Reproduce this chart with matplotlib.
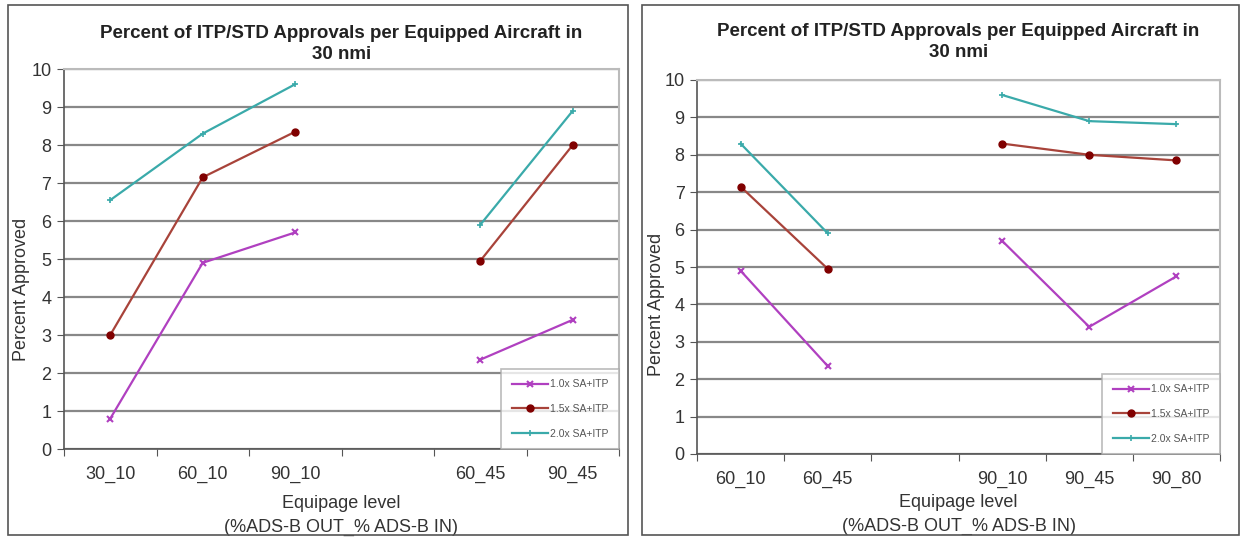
import matplotlib
matplotlib.use('Agg')
import matplotlib.pyplot as plt
import numpy as np
from matplotlib.patches import Rectangle

# left panel
cats_left = ['30_10', '60_10', '90_10', '', '60_45', '90_45']
left_10 = [0.8, 4.9, 5.7, None, 2.35, 3.4]
left_15 = [3.0, 7.15, 8.35, None, 4.95, 8.0]
left_20 = [6.55, 8.3, 9.6, None, 5.9, 8.9]

# right panel
cats_right = ['60_10', '60_45', '', '90_10', '90_45', '90_80']
right_10 = [4.9, 2.35, None, 5.7, 3.4, 4.75]
right_15 = [7.15, 4.95, None, 8.3, 8.0, 7.85]
right_20 = [8.3, 5.9, None, 9.6, 8.9, 8.82]

labels = ['1.0x SA+ITP', '1.5x SA+ITP', '2.0x SA+ITP']
title = 'Percent of ITP/STD Approvals per Equipped Aircraft in\n30 nmi'

plt.rcParams['font.family'] = ['Liberation Sans', 'DejaVu Sans']

fig = plt.figure(figsize=(12.41, 5.4), dpi=100)

# panel frames
fig.patches.append(Rectangle((8/1241, 1-535/540), (628-8)/1241, (535-5)/540,
                             transform=fig.transFigure, fill=False, ec='#555555', lw=1.2))
fig.patches.append(Rectangle((642/1241, 1-535/540), (1239-642)/1241, (535-5)/540,
                             transform=fig.transFigure, fill=False, ec='#555555', lw=1.2))


def tonan(v):
    return np.array([np.nan if a is None else a for a in v])


def draw(ax, cats, s10, s15, s20, ylab_y, tpad, xpad):
    x = np.arange(len(cats))
    ax.plot(x, tonan(s10), color='#B040C0', lw=1.6, marker='x', ms=4, mew=1.5, label=labels[0])
    ax.plot(x, tonan(s15), color='#A8433A', lw=1.6, marker='o', ms=5, mfc='#800000', mec='#800000', label=labels[1])
    ax.plot(x, tonan(s20), color='#3AAAAA', lw=1.6, marker='+', ms=4, mew=1.2, label=labels[2])
    ax.set_xlim(-0.5, len(cats) - 0.5)
    ax.set_ylim(0, 10)
    ax.set_yticks(range(0, 11))
    ax.set_xticks(np.arange(-0.5, len(cats), 1.0))
    ax.set_xticklabels([])
    ax.set_xticks(x, minor=True)
    ax.set_xticklabels(cats, minor=True)
    ax.tick_params(axis='x', which='minor', length=0, pad=12, labelsize=13, labelcolor='#333333')
    ax.tick_params(axis='x', which='major', length=5, color='#555555')
    ax.tick_params(axis='y', length=5, color='#555555', labelsize=13, labelcolor='#333333', pad=4)
    ax.grid(True, axis='y', color='#888888', lw=1.6)
    ax.set_axisbelow(True)
    for s in ['top', 'right']:
        ax.spines[s].set_color('#bbbbbb')
        ax.spines[s].set_linewidth(1.5)
    for s in ['left', 'bottom']:
        ax.spines[s].set_color('#555555')
        ax.spines[s].set_linewidth(1.2)
    ax.set_ylabel('Percent Approved', fontsize=13, color='#333333')
    ax.yaxis.set_label_coords(-0.061, ylab_y)
    ax.set_xlabel('Equipage level\n(%ADS-B OUT_% ADS-B IN)', fontsize=13, color='#333333',
                  linespacing=1.5, labelpad=xpad)
    ax.set_title(title, fontsize=13.5, fontweight='bold', color='#222222', pad=tpad, linespacing=1.35)
    leg = ax.legend(loc='lower right', fontsize=7.5, frameon=True, fancybox=False,
                    edgecolor='#aaaaaa', borderaxespad=0, handlelength=3.5, labelspacing=1.4,
                    borderpad=1.0, handletextpad=0.2)
    for t in leg.get_texts():
        t.set_color('#555555')
    leg.get_frame().set_linewidth(1.2)


ax1 = fig.add_axes([64/1241, 1-449/540, (619-64)/1241, (449-69)/540])
draw(ax1, cats_left, left_10, left_15, left_20, 0.42, 7, 9)

ax2 = fig.add_axes([697/1241, 1-454/540, (1220-697)/1241, (454-80)/540])
draw(ax2, cats_right, right_10, right_15, right_20, 0.40, 16.5, 4.5)

fig.savefig('out.png', dpi=100)
